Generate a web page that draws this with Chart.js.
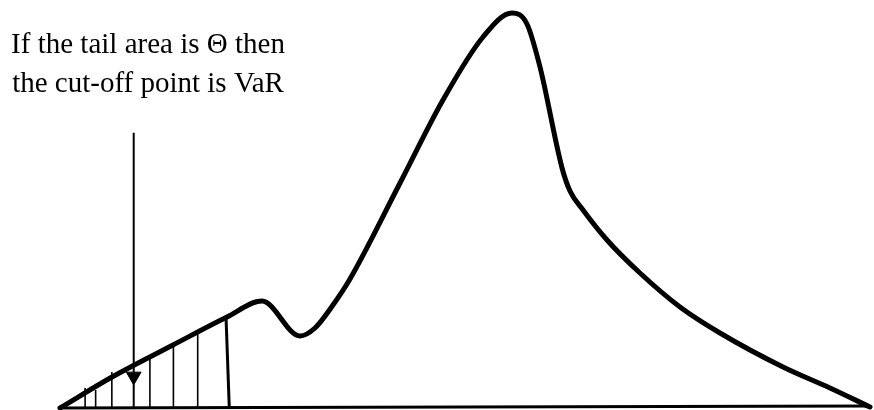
<!DOCTYPE html>
<html lang="en">
<head>
    <meta charset="UTF-8">
    <title>VaR tail area</title>
    <script src="https://cdn.jsdelivr.net/npm/chart.js"></script>
    <style>
        html, body {
            margin: 0;
            background: #fff;
            overflow: hidden;
        }
        #wrap {
            width: 874px;
            height: 410px;
            position: relative;
        }
        canvas {
            display: block;
        }
    </style>
</head>
<body>
    <div id="wrap">
        <canvas id="varChart"></canvas>
    </div>
    <script>
        // Density curve (x: return axis 0..100, y: density 0..100)
        const curveX = [0, 6.42, 13.95, 20.62, 24.94, 29.63, 31.48, 33.70, 35.80, 41.98, 47.28,
            52.22, 55.80, 57.65, 59.26, 61.98, 62.96, 64.57, 67.53, 71.60, 76.54, 81.48, 89.26, 95.06, 100];
        const curveY = [0, 7.75, 15.75, 22.75, 26.75, 18.0, 20.0, 25.75, 32.25, 56.25, 77.0,
            92.75, 98.75, 96.0, 85.25, 60.0, 54.25, 49.5, 42.0, 33.75, 25.25, 18.75, 10.25, 5.0, 0.25];

        // Hatching under the left tail
        const hatchX = [3.1, 4.4, 6.4, 11.1, 14.0, 17.0];
        const hatchTop = [5.0, 4.5, 9.0, 12.8, 15.8, 19.0];

        // Cut-off (VaR) line
        const cutX = [20.9, 20.5];
        const cutY = [0, 22.5];

        // Baseline
        const baseX = [0, 100];
        const baseY = [0, 0.5];

        // Arrow pointing at the tail
        const arrowX = 9.1;
        const arrowTop = 68.8;
        const arrowHead = 7.9;

        const labelLines = ['If the tail area is \u0398 then', 'the cut-off point is VaR'];

        const toPts = (xs, ys) => xs.map((x, i) => ({ x: x, y: ys[i] }));

        const datasets = [];
        datasets.push({
            data: toPts(baseX, baseY),
            borderColor: '#000',
            borderWidth: 3,
            showLine: true,
            pointRadius: 0,
            clip: false
        });
        hatchX.forEach((x, i) => {
            datasets.push({
                data: [{ x: x, y: 0 }, { x: x, y: hatchTop[i] }],
                borderColor: '#000',
                borderWidth: 1.6,
                showLine: true,
                pointRadius: 0,
                clip: false
            });
        });
        datasets.push({
            data: toPts(cutX, cutY),
            borderColor: '#000',
            borderWidth: 3,
            showLine: true,
            pointRadius: 0,
            clip: false
        });
        datasets.push({
            data: [{ x: arrowX, y: 0 }, { x: arrowX, y: arrowTop }],
            borderColor: '#000',
            borderWidth: 2,
            showLine: true,
            pointRadius: 0,
            clip: false
        });
        datasets.push({
            data: [{ x: arrowX, y: arrowHead }],
            showLine: false,
            pointStyle: 'triangle',
            pointRotation: 180,
            pointRadius: 8.5,
            pointBackgroundColor: '#000',
            pointBorderColor: '#000',
            pointBorderWidth: 1,
            clip: false
        });
        datasets.push({
            data: toPts(curveX, curveY),
            borderColor: '#000',
            borderWidth: 5,
            showLine: true,
            cubicInterpolationMode: 'monotone',
            borderJoinStyle: 'round',
            borderCapStyle: 'round',
            pointRadius: 0,
            clip: false
        });

        // Text label in the upper left
        const labelPlugin = {
            id: 'label',
            afterDraw(chart) {
                const ctx = chart.ctx;
                ctx.save();
                ctx.fillStyle = '#000';
                ctx.font = '29px "Liberation Serif", "Times New Roman", serif';
                ctx.textAlign = 'center';
                ctx.textBaseline = 'alphabetic';
                ctx.fillText(labelLines[0], 148, 53);
                ctx.fillText(labelLines[1], 148, 92);
                ctx.restore();
            }
        };

        new Chart(document.getElementById('varChart'), {
            type: 'scatter',
            data: { datasets: datasets },
            options: {
                responsive: true,
                maintainAspectRatio: false,
                animation: false,
                layout: { autoPadding: false, padding: { left: 60, right: 4, top: 8, bottom: 2 } },
                plugins: {
                    legend: { display: false },
                    tooltip: { enabled: false }
                },
                scales: {
                    x: { type: 'linear', min: 0, max: 100, display: false },
                    y: { type: 'linear', min: 0, max: 100, display: false }
                }
            },
            plugins: [labelPlugin]
        });
    </script>
</body>
</html>
